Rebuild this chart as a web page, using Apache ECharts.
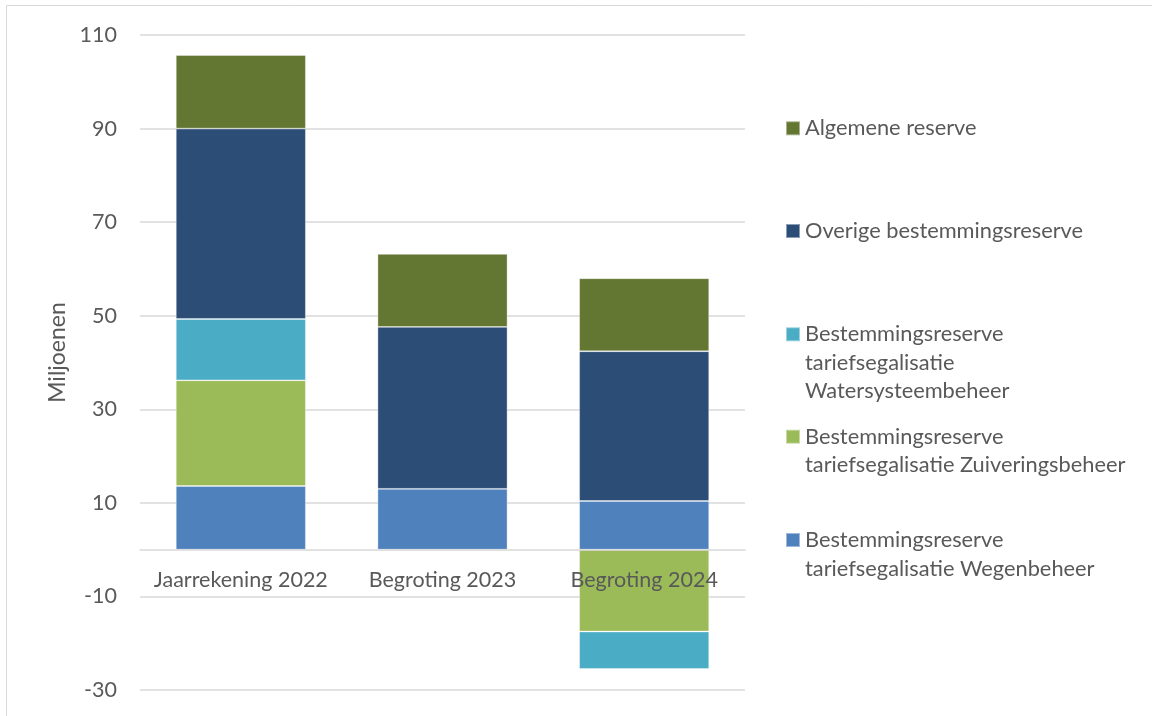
<!DOCTYPE html>
<html>
<head>
<meta charset="utf-8">
<script src="https://cdn.jsdelivr.net/npm/echarts@6/dist/echarts.min.js"></script>
<style>
html,body{margin:0;padding:0;background:#fff;}
#chart{width:1152px;height:716px;}
</style>
</head>
<body>
<div id="chart"></div>
<script>
const categories = ['Jaarrekening 2022', 'Begroting 2023', 'Begroting 2024'];
const wegenbeheer = [13.6, 13.0, 10.4];
const zuiveringsbeheer = [22.6, -0.2, -17.5];
const watersysteembeheer = [13.1, 0, -8.0];
const overigeBestemming = [40.7, 34.6, 32.0];
const algemeneReserve = [15.7, 15.6, 15.6];
const seriesNames = [
  'Bestemmingsreserve tariefsegalisatie Wegenbeheer',
  'Bestemmingsreserve tariefsegalisatie Zuiveringsbeheer',
  'Bestemmingsreserve tariefsegalisatie Watersysteembeheer',
  'Overige bestemmingsreserve',
  'Algemene reserve'
];
const legendLabels = {
  'Algemene reserve': ['Algemene reserve'],
  'Overige bestemmingsreserve': ['Overige bestemmingsreserve'],
  'Bestemmingsreserve tariefsegalisatie Watersysteembeheer': ['Bestemmingsreserve', 'tariefsegalisatie', 'Watersysteembeheer'],
  'Bestemmingsreserve tariefsegalisatie Zuiveringsbeheer': ['Bestemmingsreserve', 'tariefsegalisatie Zuiveringsbeheer'],
  'Bestemmingsreserve tariefsegalisatie Wegenbeheer': ['Bestemmingsreserve', 'tariefsegalisatie Wegenbeheer']
};
const seriesData = [wegenbeheer, zuiveringsbeheer, watersysteembeheer, overigeBestemming, algemeneReserve];
const colors = ['#4F81BD', '#9BBB59', '#4BACC6', '#2C4D75', '#637632'];

const FONT = 'Lato, "Open Sans", sans-serif';
const TXT = '#595959';
const LH = 28.5;
const FS = 21.5;

// legend layout: [series name, first-line center y]
const legendRows = [
  ['Algemene reserve', 128.3],
  ['Overige bestemmingsreserve', 231],
  ['Bestemmingsreserve tariefsegalisatie Watersysteembeheer', 334.3],
  ['Bestemmingsreserve tariefsegalisatie Zuiveringsbeheer', 436.7],
  ['Bestemmingsreserve tariefsegalisatie Wegenbeheer', 540]
];

const legends = legendRows.map(function (r) {
  const n = legendLabels[r[0]].length;
  return {
    orient: 'vertical',
    left: 785,
    top: r[1] - (2 * n - 1) * LH / 2,
    padding: 0,
    itemWidth: 14,
    itemHeight: 14,
    icon: 'rect',
    data: [r[0]],
    selectedMode: false,
    formatter: function (name) {
      const lines = legendLabels[name];
      const pad = [];
      for (let k = 1; k < lines.length; k++) pad.push(' ');
      return pad.concat(lines).join('\n');
    },
    textStyle: {
      fontFamily: FONT,
      fontSize: 21.8,
      color: TXT,
      lineHeight: LH
    }
  };
});

const chart = echarts.init(document.getElementById('chart'), null, {renderer: 'canvas'});
chart.setOption({
  animation: false,
  color: colors,
  grid: {left: 140, right: 407, top: 35, bottom: 26, containLabel: false, outerBoundsMode: 'none'},
  legend: legends,
  graphic: [{
    type: 'rect',
    shape: {x: 6.5, y: 5.5, width: 1200, height: 800},
    style: {fill: 'none', stroke: '#d9d9d9', lineWidth: 1},
    silent: true,
    z: -10
  }],
  xAxis: {
    type: 'category',
    data: categories,
    z: 5,
    position: 'bottom',
    offset: -140.4,
    axisLine: {show: true, onZero: false, lineStyle: {color: '#d9d9d9', width: 1.5}},
    axisTick: {show: false},
    axisLabel: {fontFamily: FONT, fontSize: FS, color: TXT, margin: 19, interval: 0, hideOverlap: false}
  },
  yAxis: {
    type: 'value',
    min: -30,
    max: 110,
    interval: 20,
    name: 'Miljoenen',
    nameLocation: 'middle',
    nameGap: 68,
    nameTextStyle: {fontFamily: FONT, fontSize: 23, color: TXT, padding: [0, 0, 0, 20]},
    axisLine: {show: false},
    axisTick: {show: false},
    axisLabel: {fontFamily: FONT, fontSize: FS, color: TXT, margin: 23},
    splitLine: {show: true, lineStyle: {color: '#d9d9d9', width: 1.5}}
  },
  series: seriesNames.map(function (name, i) {
    return {
      name: name,
      type: 'bar',
      stack: 'total',
      barWidth: 130,
      data: seriesData[i],
      itemStyle: {color: colors[i], borderColor: 'rgba(255,255,255,0.45)', borderWidth: 0.8}
    };
  })
});
</script>
</body>
</html>
